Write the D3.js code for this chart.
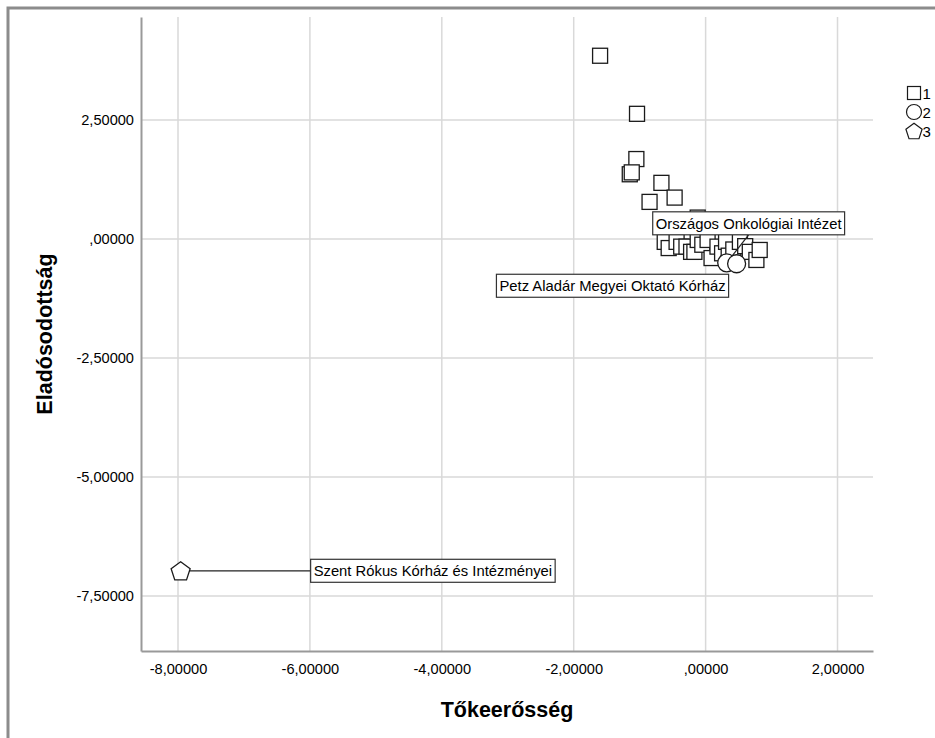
<!DOCTYPE html>
<html lang="hu">

<head>
  <meta charset="utf-8">
  <title>Tőkeerősség / Eladósodottság</title>
  <script src="https://d3js.org/d3.v7.min.js" charset="utf-8"></script>
  <style type="text/css">
    body { margin: 0; background: #fff; }
    svg { display: block; font-family: "Liberation Sans", Arial, sans-serif; }
  </style>
</head>

<body>
  <svg id="chart" width="935" height="738" xmlns="http://www.w3.org/2000/svg"></svg>
  <script type="text/javascript">
    // cluster 1 (squares)
    var cluster1X = [-1.60, -1.04, -1.05, -1.15, -1.12, -0.67, -0.47, -0.85, -0.12, -0.62,
      -0.56, -0.44, -0.37, -0.29, -0.22, -0.17, -0.12, -0.05, 0.03, 0.09,
      0.18, 0.25, 0.31, 0.35, 0.42, 0.52, 0.60, 0.67, 0.77, 0.82];
    var cluster1Y = [3.85, 2.63, 1.68, 1.36, 1.40, 1.18, 0.87, 0.78, 0.45, -0.06,
      -0.19, -0.06, -0.16, -0.16, -0.27, -0.27, -0.02, -0.12, -0.02, -0.40,
      -0.16, -0.30, -0.06, -0.35, -0.22, -0.06, -0.15, -0.27, -0.44, -0.23];
    // cluster 2 (circles)
    var cluster2X = [0.32, 0.47];
    var cluster2Y = [-0.50, -0.52];
    var cluster2Names = ["Országos Onkológiai Intézet", "Petz Aladár Megyei Oktató Kórház"];
    // cluster 3 (pentagon)
    var cluster3X = [-7.96];
    var cluster3Y = [-6.97];
    var cluster3Names = ["Szent Rókus Kórház és Intézményei"];

    var legendLabels = ["1", "2", "3"];
    var xTicks = [-8, -6, -4, -2, 0, 2];
    var xTickLabels = ["-8,00000", "-6,00000", "-4,00000", "-2,00000", ",00000", "2,00000"];
    var yTicks = [2.5, 0, -2.5, -5, -7.5];
    var yTickLabels = ["2,50000", ",00000", "-2,50000", "-5,00000", "-7,50000"];

    var svg = d3.select("#chart");

    var x = d3.scaleLinear().domain([-8.561, 2.538]).range([141, 873]);
    var y = d3.scaleLinear().domain([-8.655, 4.664]).range([651, 17]);

    // outer frame
    svg.append("rect")
      .attr("x", 8).attr("y", 8)
      .attr("width", 940).attr("height", 745)
      .style("fill", "none")
      .style("stroke", "#8c8c8c")
      .style("stroke-width", 3);

    // grid
    var grid = svg.append("g");
    grid.selectAll("line.vx").data(xTicks).enter().append("line")
      .attr("x1", function(d) { return x(d); }).attr("x2", function(d) { return x(d); })
      .attr("y1", y.range()[1]).attr("y2", y.range()[0])
      .style("stroke", "#d9d9d9").style("stroke-width", 1.5);
    grid.selectAll("line.hy").data(yTicks).enter().append("line")
      .attr("x1", x.range()[0]).attr("x2", x.range()[1])
      .attr("y1", function(d) { return y(d); }).attr("y2", function(d) { return y(d); })
      .style("stroke", "#d9d9d9").style("stroke-width", 1.5);

    // axes
    var xAxis = d3.axisBottom(x).tickValues(xTicks).tickSize(0).tickPadding(13)
      .tickFormat(function(d, i) { return xTickLabels[i]; });
    var gx = svg.append("g").attr("transform", "translate(0," + y.range()[0] + ")").call(xAxis);
    var yAxis = d3.axisLeft(y).tickValues(yTicks).tickSize(0).tickPadding(7)
      .tickFormat(function(d, i) { return yTickLabels[i]; });
    var gy = svg.append("g").attr("transform", "translate(" + x.range()[0] + ",0)").call(yAxis);

    [gx, gy].forEach(function(g) {
      g.select(".domain").style("stroke", "#999").style("stroke-width", 2);
      g.selectAll("text").style("font-family", "'Liberation Sans', Arial, sans-serif")
        .style("font-size", "14.6px").style("fill", "#000");
    });

    // axis titles
    svg.append("text")
      .attr("x", (x.range()[0] + x.range()[1]) / 2).attr("y", 717)
      .attr("text-anchor", "middle")
      .style("font-size", "21.5px").style("font-weight", "bold").style("fill", "#000")
      .text("Tőkeerősség");
    svg.append("text")
      .attr("transform", "translate(52," + (y.range()[0] + y.range()[1]) / 2 + ") rotate(-90)")
      .attr("text-anchor", "middle")
      .style("font-size", "21.5px").style("font-weight", "bold").style("fill", "#000")
      .text("Eladósodottság");

    // marker shapes
    function pentagonPath(r) {
      var pts = d3.range(5).map(function(i) {
        var a = -Math.PI / 2 + i * 2 * Math.PI / 5;
        return [r * Math.cos(a), r * Math.sin(a) + r * 0.1];
      });
      return "M" + pts.join("L") + "Z";
    }

    var labels = [
      { x: cluster2X[0], y: cluster2Y[0], text: cluster2Names[0], bx: -74, by: -39.5, align: "left", link: "bottom" },
      { x: cluster2X[1], y: cluster2Y[1], text: cluster2Names[1], bx: -8, by: 22, align: "right", link: "none" },
      { x: cluster3X[0], y: cluster3Y[0], text: cluster3Names[0], bx: 130, by: 0, align: "left", link: "left" }
    ];

    // squares, then connectors, then circles / pentagon, then label boxes
    var squareLayer = svg.append("g");
    var linkLayer = svg.append("g");
    var markLayer = svg.append("g");
    var labelLayer = svg.append("g");

    squareLayer.selectAll("rect").data(d3.range(cluster1X.length)).enter().append("rect")
      .attr("x", function(i) { return x(cluster1X[i]) - 7.5; })
      .attr("y", function(i) { return y(cluster1Y[i]) - 7.5; })
      .attr("width", 15).attr("height", 15)
      .style("fill", "#fff").style("stroke", "#1a1a1a").style("stroke-width", 1.3);

    markLayer.selectAll("circle").data(d3.range(cluster2X.length)).enter().append("circle")
      .attr("cx", function(i) { return x(cluster2X[i]); })
      .attr("cy", function(i) { return y(cluster2Y[i]); })
      .attr("r", 9)
      .style("fill", "#fff").style("stroke", "#1a1a1a").style("stroke-width", 1.3);

    markLayer.selectAll("path").data(d3.range(cluster3X.length)).enter().append("path")
      .attr("transform", function(i) { return "translate(" + x(cluster3X[i]) + "," + y(cluster3Y[i]) + ")"; })
      .attr("d", pentagonPath(10))
      .style("fill", "#fff").style("stroke", "#1a1a1a").style("stroke-width", 1.3);

    labels.forEach(function(l) {
      var px = x(l.x), py = y(l.y);
      var g = labelLayer.append("g");
      var box = g.append("rect");
      var t = g.append("text")
        .style("font-size", "14.8px").style("fill", "#000")
        .text(l.text);
      var w = t.node().getComputedTextLength() + 6;
      var h = 23;
      var left = l.align === "left" ? px + l.bx : px + l.bx - w;
      var top = py + l.by - h / 2;
      box.attr("x", left).attr("y", top).attr("width", w).attr("height", h)
        .style("fill", "#fff").style("stroke", "#333").style("stroke-width", 1.2);
      t.attr("x", left + 3).attr("y", top + h / 2 + 5.2);
      var lx, ly;
      if (l.link === "bottom") { lx = left + w / 2; ly = top + h; }
      else if (l.link === "left") { lx = left; ly = top + h / 2; }
      if (l.link !== "none") {
        linkLayer.append("line")
          .attr("x1", px).attr("y1", py).attr("x2", lx).attr("y2", ly)
          .style("stroke", "#222").style("stroke-width", 1.2);
      }
    });

    // legend
    var legend = svg.append("g").attr("transform", "translate(914,93)");
    var items = legend.selectAll("g").data(legendLabels).enter().append("g")
      .attr("transform", function(d, i) { return "translate(0," + i * 19 + ")"; });
    items.each(function(d, i) {
      var g = d3.select(this);
      if (i === 0) {
        g.append("rect").attr("x", -6.5).attr("y", -6.5).attr("width", 13).attr("height", 13);
      } else if (i === 1) {
        g.append("circle").attr("r", 7.5);
      } else {
        g.append("path").attr("d", pentagonPath(8.5));
      }
      g.select("*").style("fill", "#fff").style("stroke", "#1a1a1a").style("stroke-width", 1.2);
      g.append("text").attr("x", 8.5).attr("y", 5.5)
        .style("font-size", "15px").style("fill", "#000").text(d);
    });
  </script>
</body>

</html>
